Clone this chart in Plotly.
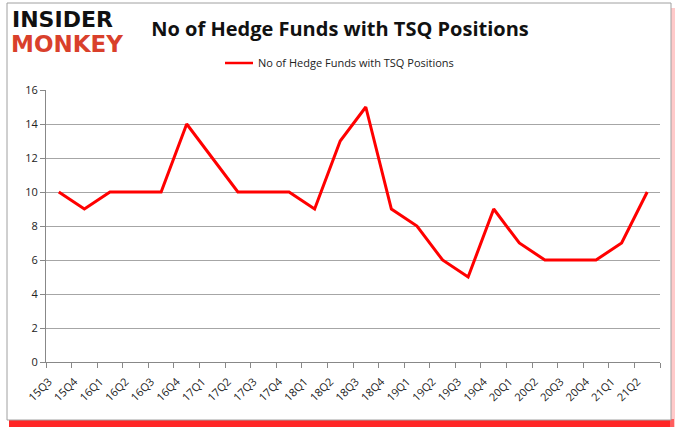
import plotly.graph_objects as go

# quarters and number of hedge funds holding TSQ
quarters = ['15Q3', '15Q4', '16Q1', '16Q2', '16Q3', '16Q4', '17Q1', '17Q2',
            '17Q3', '17Q4', '18Q1', '18Q2', '18Q3', '18Q4', '19Q1', '19Q2',
            '19Q3', '19Q4', '20Q1', '20Q2', '20Q3', '20Q4', '21Q1', '21Q2']
funds = [10, 9, 10, 10, 10, 14, 12, 10, 10, 10, 9, 13, 15, 9, 8, 6,
         5, 9, 7, 6, 6, 6, 7, 10]
y_ticks = [0, 2, 4, 6, 8, 10, 12, 14, 16]
series_name = 'No of Hedge Funds with TSQ Positions'

W, H = 680, 433
L, R, T, B = 46, 20, 90, 71


def px_x(p):
    return (p - L) / (W - L - R)


def px_y(p):
    return 1 - (p - T) / (H - T - B)


fig = go.Figure()
fig.add_trace(go.Scatter(
    x=quarters, y=funds, mode='lines',
    line=dict(color='#ff0000', width=3),
    name=series_name, showlegend=False, hoverinfo='skip',
))

shapes = [
    # red drop shadow under frame
    dict(type='rect', xref='paper', yref='paper',
         x0=px_x(9), x1=px_x(674), y0=px_y(427), y1=px_y(419),
         fillcolor='rgba(255,0,0,0.85)', line=dict(width=0), layer='below'),
    dict(type='rect', xref='paper', yref='paper',
         x0=px_x(670), x1=px_x(675), y0=px_y(427), y1=px_y(8),
         fillcolor='rgba(255,150,150,0.5)', line=dict(width=0), layer='below'),
    # outer frame
    dict(type='rect', xref='paper', yref='paper',
         x0=px_x(7), x1=px_x(671), y0=px_y(420), y1=px_y(3),
         fillcolor='white', line=dict(color='#a0a0a0', width=1), layer='below'),
    # legend sample line
    dict(type='line', xref='paper', yref='paper',
         x0=px_x(225), x1=px_x(253), y0=px_y(63), y1=px_y(63),
         line=dict(color='#ff0000', width=2.5)),
]

annotations = [
    dict(text='<b>INSIDER</b>', x=px_x(10), y=px_y(34), xref='paper', yref='paper',
         xanchor='left', yanchor='bottom', showarrow=False,
         font=dict(family='DejaVu Sans', size=22, color='#111111')),
    dict(text='<b>MONKEY</b>', x=px_x(9), y=px_y(59), xref='paper', yref='paper',
         xanchor='left', yanchor='bottom', showarrow=False,
         font=dict(family='DejaVu Sans', size=23, color='#d9402b')),
    dict(text=series_name, x=px_x(256), y=px_y(63), xref='paper', yref='paper',
         xanchor='left', yanchor='middle', showarrow=False,
         font=dict(family='Open Sans', size=11, color='#222222')),
]

fig.update_layout(
    width=W, height=H,
    margin=dict(l=L, r=R, t=T, b=B, autoexpand=False),
    paper_bgcolor='white', plot_bgcolor='white',
    title=dict(text='<b>No of Hedge Funds with TSQ Positions</b>',
               x=px_x(340), xanchor='center', xref='paper',
               y=1 - 29 / H, yanchor='middle',
               font=dict(family='Open Sans', size=20, color='#111111')),
    showlegend=False,
    shapes=shapes,
    annotations=annotations,
    font=dict(family='Open Sans', size=11, color='#222222'),
)

fig.update_xaxes(
    type='category', range=[-0.5, len(quarters) - 0.5], automargin=False,
    tickangle=-45, showgrid=False, showline=True, linecolor='#888888',
    ticks='outside', ticklen=5, tickcolor='#888888',
    tickson='boundaries', tickfont=dict(size=11),
    ticklabelshift=-10, ticklabelstandoff=8,
)
fig.update_yaxes(
    range=[0, 16], tickvals=y_ticks, showgrid=True, gridcolor='#a6a6a6',
    automargin=False,
    showline=True, linecolor='#888888', ticks='outside', ticklen=5,
    tickcolor='#888888', zeroline=False, tickfont=dict(size=11),
)

# drop the default page margin so the figure sits at the window corner
fig.write_html('out.html', config={'displayModeBar': False},
               post_script="document.body.style.margin='0';")
